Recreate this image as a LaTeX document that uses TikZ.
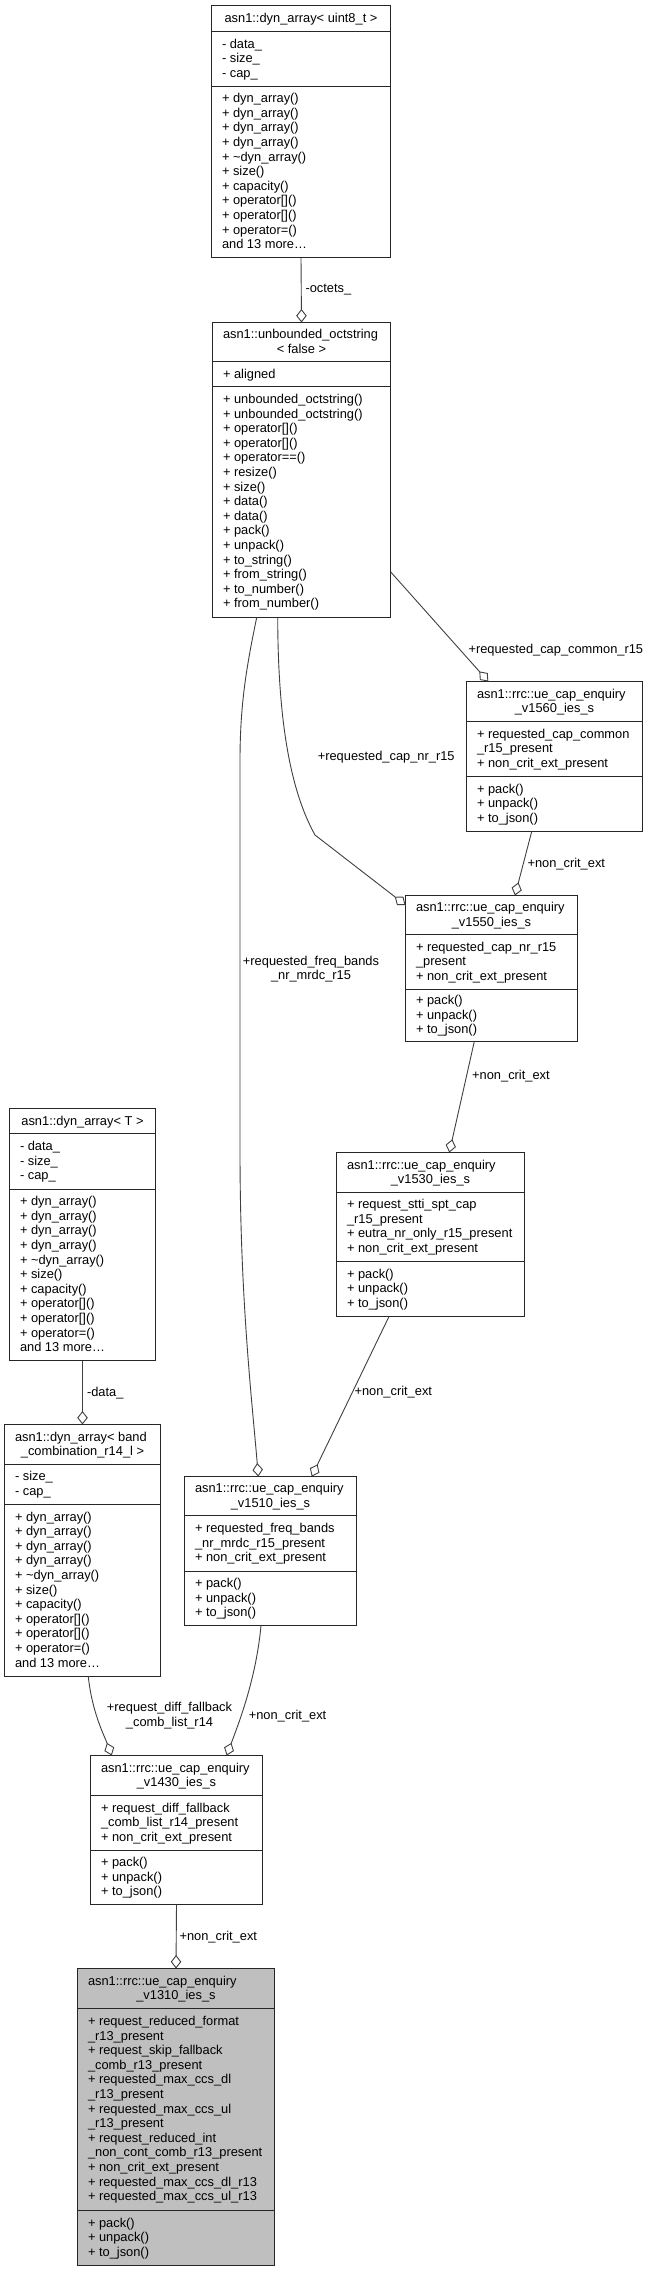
\documentclass[tikz,border=0pt]{standalone}
\usepackage{fontspec}
\setmainfont{Liberation Sans}
\usetikzlibrary{arrows.meta}
\definecolor{edgegray}{HTML}{404040}
\definecolor{boxline}{HTML}{262626}
\definecolor{focusfill}{HTML}{BFBFBF}
\newcommand{\lstrut}{\rule[-4pt]{0pt}{14pt}}
\tikzset{
  txt/.style={font=\fontsize{12.85}{14.6}\selectfont, text=black, inner sep=0pt, outer sep=0pt,
    execute at begin node=\lstrut, execute at end node=\lstrut},
  classbox/.style={draw=boxline, line width=1.1pt, inner sep=0pt, outer sep=0pt},
  sepline/.style={draw=boxline, line width=1.1pt},
  assoc/.style={draw=edgegray, line width=0.9pt,
    -{Diamond[open, length=13.5pt, width=10.5pt, line width=0.9pt]}},
  elabel/.style={txt, anchor=west},
  clabel/.style={txt, align=center, anchor=center},
}
\makeatletter
\def\cls@parse#1/#2/#3/#4/#5/#6\relax{\def\cL{#1}\def\cT{#2}\def\cR{#3}\def\cA{#4}\def\cB{#5}\def\cE{#6}}
\newcommand\umlclass[7][white]{%
  \cls@parse#3\relax
  \node[classbox, fill=#1, anchor=north west,
        minimum width={(\cR-\cL)*1pt}, minimum height={(\cE-\cT)*1pt}] (#2) at (\cL,\cT) {};
  \draw[sepline] (\cL,\cA) -- (\cR,\cA);
  \draw[sepline] (\cL,\cB) -- (\cR,\cB);
  \if\relax\detokenize{#5}\relax
    \node[txt, anchor=center] (#2-t) at ({(\cL+\cR)/2},{(\cT+\cA)/2+1}) {#4};
  \else
    \node[txt, anchor=west] (#2-t) at ({\cL+10.5},{(\cT+\cA)/2-6.3}) {#4};
    \node[txt, anchor=center] (#2-u) at ({(\cL+\cR)/2},{(\cT+\cA)/2+8.3}) {#5};
  \fi
  \node[txt, align=left, anchor=west] (#2-a) at ({\cL+10.5},{(\cA+\cB)/2+1}) {#6};
  \node[txt, align=left, anchor=west] (#2-m) at ({\cL+10.5},{(\cB+\cE)/2+1}) {#7};
}
\makeatother
\begin{document}
\begin{tikzpicture}[x=1pt,y=-1pt]
\path[use as bounding box, fill=white] (0,0) rectangle (651,2271);

% ---------- classes ----------
\umlclass{u8}{211.5/5.5/390.5/31.5/86.5/257.5}{asn1::dyn\_array< uint8\_t >}{}
  {- data\_\\- size\_\\- cap\_}
  {+ dyn\_array()\\+ dyn\_array()\\+ dyn\_array()\\+ dyn\_array()\\+ \textasciitilde dyn\_array()\\+ size()\\+ capacity()\\+ operator[]()\\+ operator[]()\\+ operator=()\\and 13 more…}

\umlclass{uo}{212.5/322.5/390.5/361.5/386.5/617.5}{asn1::unbounded\_octstring}{< false >}
  {+ aligned}
  {+ unbounded\_octstring()\\+ unbounded\_octstring()\\+ operator[]()\\+ operator[]()\\+ operator==()\\+ resize()\\+ size()\\+ data()\\+ data()\\+ pack()\\+ unpack()\\+ to\_string()\\+ from\_string()\\+ to\_number()\\+ from\_number()}

\umlclass{v1560}{466.5/681.5/642.5/721.5/776.5/831.5}{asn1::rrc::ue\_cap\_enquiry}{\_v1560\_ies\_s}
  {+ requested\_cap\_common\\\_r15\_present\\+ non\_crit\_ext\_present}
  {+ pack()\\+ unpack()\\+ to\_json()}

\umlclass{v1550}{405.5/895.5/577.5/934.5/989.5/1041.5}{asn1::rrc::ue\_cap\_enquiry}{\_v1550\_ies\_s}
  {+ requested\_cap\_nr\_r15\\\_present\\+ non\_crit\_ext\_present}
  {+ pack()\\+ unpack()\\+ to\_json()}

\umlclass{v1530}{336.5/1152.5/524.5/1192.5/1261.5/1316.5}{asn1::rrc::ue\_cap\_enquiry}{\_v1530\_ies\_s}
  {+ request\_stti\_spt\_cap\\\_r15\_present\\+ eutra\_nr\_only\_r15\_present\\+ non\_crit\_ext\_present}
  {+ pack()\\+ unpack()\\+ to\_json()}

\umlclass{dT}{9.5/1108.5/155.5/1133.5/1189.5/1360.5}{asn1::dyn\_array< T >}{}
  {- data\_\\- size\_\\- cap\_}
  {+ dyn\_array()\\+ dyn\_array()\\+ dyn\_array()\\+ dyn\_array()\\+ \textasciitilde dyn\_array()\\+ size()\\+ capacity()\\+ operator[]()\\+ operator[]()\\+ operator=()\\and 13 more…}

\umlclass{dB}{4.5/1424.5/160.5/1464.5/1504.5/1676.5}{asn1::dyn\_array< band}{\_combination\_r14\_l >}
  {- size\_\\- cap\_}
  {+ dyn\_array()\\+ dyn\_array()\\+ dyn\_array()\\+ dyn\_array()\\+ \textasciitilde dyn\_array()\\+ size()\\+ capacity()\\+ operator[]()\\+ operator[]()\\+ operator=()\\and 13 more…}

\umlclass{v1510}{184.5/1476.5/356.5/1515.5/1571.5/1625.5}{asn1::rrc::ue\_cap\_enquiry}{\_v1510\_ies\_s}
  {+ requested\_freq\_bands\\\_nr\_mrdc\_r15\_present\\+ non\_crit\_ext\_present}
  {+ pack()\\+ unpack()\\+ to\_json()}

\umlclass{v1430}{90.5/1755.5/262.5/1795.5/1850.5/1904.5}{asn1::rrc::ue\_cap\_enquiry}{\_v1430\_ies\_s}
  {+ request\_diff\_fallback\\\_comb\_list\_r14\_present\\+ non\_crit\_ext\_present}
  {+ pack()\\+ unpack()\\+ to\_json()}

\umlclass[focusfill]{v1310}{77.5/1968.5/274.5/2008.5/2210.5/2265.5}{asn1::rrc::ue\_cap\_enquiry}{\_v1310\_ies\_s}
  {+ request\_reduced\_format\\\_r13\_present\\+ request\_skip\_fallback\\\_comb\_r13\_present\\+ requested\_max\_ccs\_dl\\\_r13\_present\\+ requested\_max\_ccs\_ul\\\_r13\_present\\+ request\_reduced\_int\\\_non\_cont\_comb\_r13\_present\\+ non\_crit\_ext\_present\\+ requested\_max\_ccs\_dl\_r13\\+ requested\_max\_ccs\_ul\_r13}
  {+ pack()\\+ unpack()\\+ to\_json()}

% ---------- connectors ----------
\draw[assoc] (u8.south) -- (uo.north);
\node[elabel] (l-oct) at (305.5,289) {-octets\_};

\draw[assoc] ([yshift=-249.2pt]uo.north east) -- ([xshift=21.8pt]v1560.north west);
\node[elabel] (l-common) at (468.5,650) {+requested\_cap\_common\_r15};

\draw[assoc] ([xshift=65.2pt]uo.south west) .. controls (278,720) and (290,790) .. (315,835)
  -- ([yshift=-9.5pt]v1550.north west);
\node[elabel] (l-nr) at (317.8,757) {+requested\_cap\_nr\_r15};

\draw[assoc] ([xshift=44.2pt]uo.south west) .. controls (248,660) and (240,700) .. (240,760)
  -- (240,1150) .. controls (240,1300) and (252,1400) .. ([xshift=73.8pt]v1510.north west);
\node[clabel] (l-freq) at (311,970) {+requested\_freq\_bands\\\_nr\_mrdc\_r15};

\draw[assoc] ([xshift=65.2pt]v1560.south west) -- ([xshift=109.5pt]v1550.north west);
\node[elabel] (l-n1) at (527.5,864) {+non\_crit\_ext};

\draw[assoc] ([xshift=68.8pt]v1550.south west) -- ([xshift=112.8pt]v1530.north west);
\node[elabel] (l-n2) at (472.2,1076.7) {+non\_crit\_ext};

\draw[assoc] ([xshift=52.5pt]v1530.south west) -- ([xshift=127.2pt]v1510.north west);
\node[elabel] (l-n3) at (354.5,1392.7) {+non\_crit\_ext};

\draw[assoc] (dT.south) -- (dB.north);
\node[elabel] (l-data) at (87,1393.7) {-data\_};

\draw[assoc] ([xshift=83.8pt]dB.south west) .. controls (92,1712) and (104,1735) .. ([xshift=21.2pt]v1430.north west);
\node[clabel] (l-diff) at (169.5,1716.5) {+request\_diff\_fallback\\\_comb\_list\_r14};

\draw[assoc] ([xshift=76.5pt]v1510.south west) .. controls (256,1680) and (238,1725) .. ([xshift=136.2pt]v1430.north west);
\node[elabel] (l-n4) at (248.8,1716) {+non\_crit\_ext};

\draw[assoc] (v1430.south) -- (v1310.north);
\node[elabel] (l-n5) at (179.5,1937) {+non\_crit\_ext};
\end{tikzpicture}
\end{document}
